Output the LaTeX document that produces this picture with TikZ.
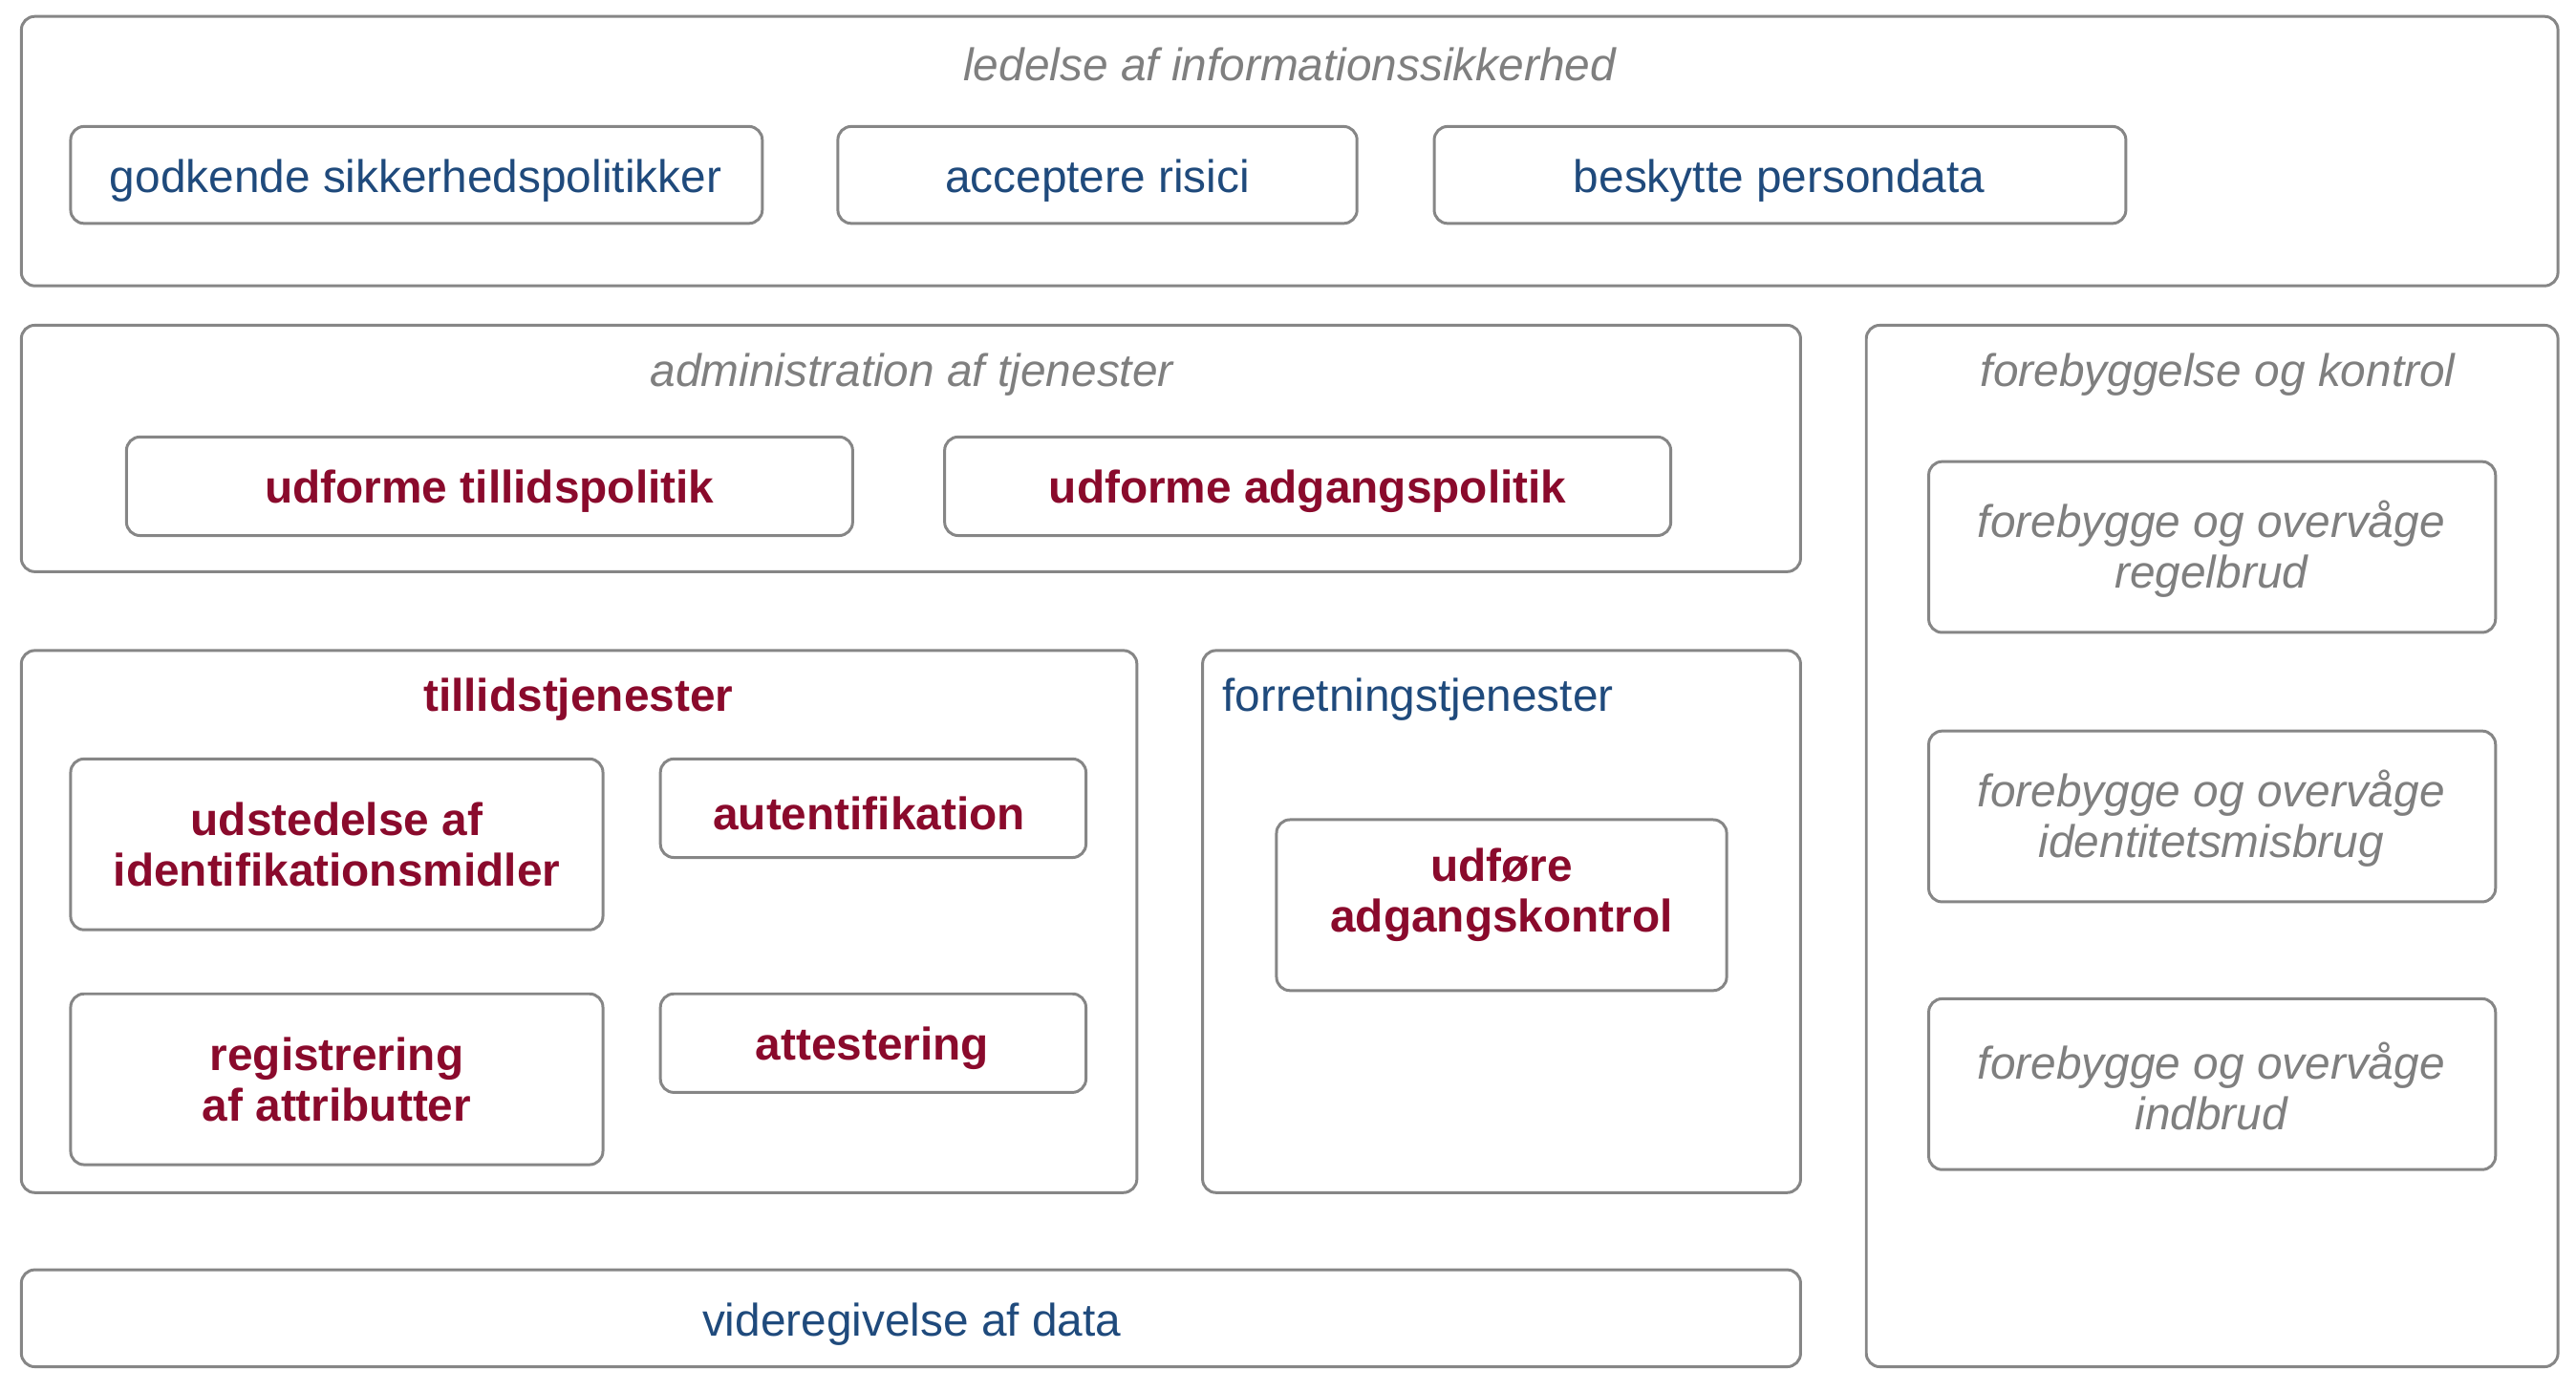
\documentclass[tikz,border=0pt]{standalone}
\usepackage{fontspec}
\setmainfont{Liberation Sans}
\usepackage{tikz}
\usetikzlibrary{positioning}
\definecolor{FrameGray}{HTML}{868686}
\definecolor{MutedGray}{HTML}{7F7F7F}
\definecolor{NavyText}{HTML}{1F4A7C}
\definecolor{WineText}{HTML}{8A0A2C}
\newcommand{\bx}{\fontsize{13.6}{15.1}\selectfont}

\tikzset{
  frame/.style={draw=FrameGray, line width=0.85pt, rounded corners=4pt},
  headtxt/.style={font=\bx\itshape, text=MutedGray},
  navytxt/.style={font=\bx, text=NavyText},
  winetxt/.style={font=\bx\bfseries, text=WineText, align=center},
  greytxt/.style={font=\bx\itshape, text=MutedGray, align=center}
}

\begin{document}
\begin{tikzpicture}[x=0.017194cm, y=-0.017194cm]
  \useasboundingbox (0,0) rectangle (1568,847);

  % ledelse af informationssikkerhed
  \draw[frame] (13,10) rectangle (1557,174);
  \node[headtxt] (ledelse) at (785,39) {ledelse af informationssikkerhed};
  \draw[frame] (43,77) rectangle (464,136);
  \node[navytxt] (godkende) at (253,110) {godkende sikkerhedspolitikker};
  \draw[frame] (510,77) rectangle (826,136);
  \node[navytxt] (risici) at (668,110) {acceptere risici};
  \draw[frame] (873,77) rectangle (1294,136);
  \node[navytxt] (persondata) at (1083,110) {beskytte persondata};

  % administration af tjenester
  \draw[frame] (13,198) rectangle (1096,348);
  \node[headtxt] (admin) at (555,228) {administration af tjenester};
  \draw[frame] (77,266) rectangle (519,326);
  \node[winetxt] (tillidspol) at (298,299) {udforme tillidspolitik};
  \draw[frame] (575,266) rectangle (1017,326);
  \node[winetxt] (adgangspol) at (796,299) {udforme adgangspolitik};

  % forebyggelse og kontrol
  \draw[frame] (1136,198) rectangle (1557,832);
  \node[headtxt] (forebyg) at (1350,228) {forebyggelse og kontrol};
  \draw[frame] (1174,281) rectangle (1519,385);
  \node[greytxt] (regelbrud) at (1346,334.5) {forebygge og overvåge\\regelbrud};
  \draw[frame] (1174,445) rectangle (1519,549);
  \node[greytxt] (misbrug) at (1346,498.5) {forebygge og overvåge\\identitetsmisbrug};
  \draw[frame] (1174,608) rectangle (1519,712);
  \node[greytxt] (indbrud) at (1346,661.5) {forebygge og overvåge\\indbrud};

  % tillidstjenester
  \draw[frame] (13,396) rectangle (692,726);
  \node[winetxt] (tillid) at (352,426) {tillidstjenester};
  \draw[frame] (43,462) rectangle (367,566);
  \node[winetxt] (udstedelse) at (205,514) {udstedelse af\\identifikationsmidler};
  \draw[frame] (402,462) rectangle (661,522);
  \node[winetxt] (autent) at (529,495) {autentifikation};
  \draw[frame] (43,605) rectangle (367,709);
  \node[winetxt] (registrering) at (205,657) {registrering\\af attributter};
  \draw[frame] (402,605) rectangle (661,665);
  \node[winetxt] (attest) at (531,638) {attestering};

  % forretningstjenester
  \draw[frame] (732,396) rectangle (1096,726);
  \node[navytxt, anchor=west] (forretning) at (737,426) {forretningstjenester};
  \draw[frame] (777,499) rectangle (1051,603);
  \node[winetxt] (adgangskontrol) at (914,545) {udføre\\adgangskontrol};

  % videregivelse af data
  \draw[frame] (13,773) rectangle (1096,832);
  \node[navytxt] (videregivelse) at (555,806) {videregivelse af data};
\end{tikzpicture}
\end{document}
